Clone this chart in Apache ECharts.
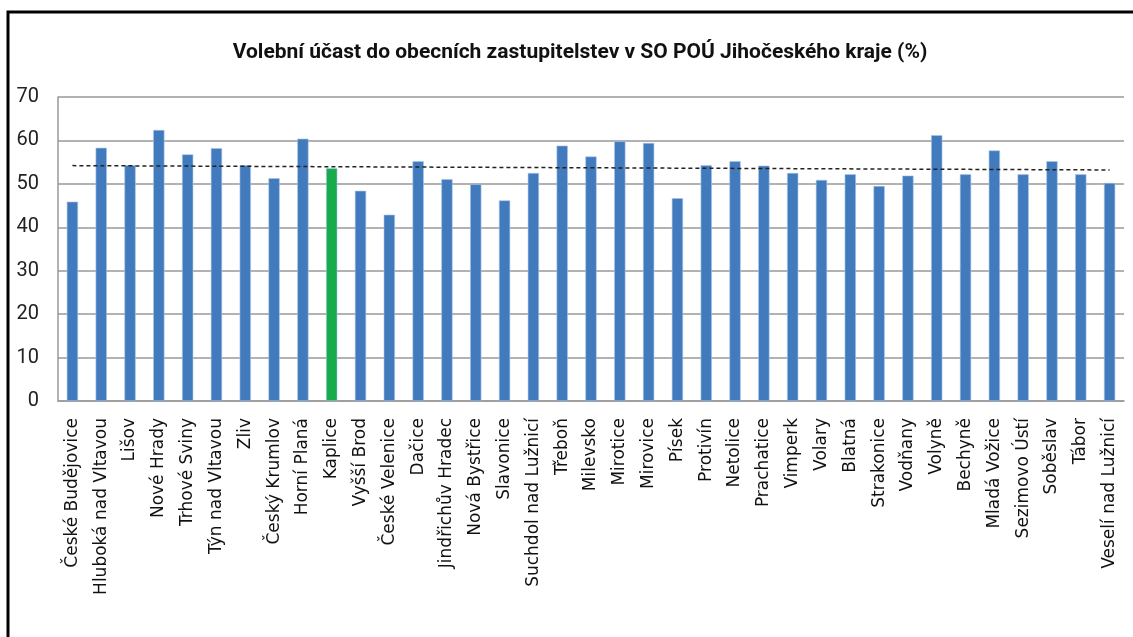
<!DOCTYPE html>
<html>
<head>
<meta charset="utf-8">
<style>
html,body{margin:0;padding:0;background:#fff;}
#chart{width:1133px;height:637px;}
</style>
<script src="https://cdn.jsdelivr.net/npm/echarts@6/dist/echarts.min.js"></script>
</head>
<body>
<div id="chart"></div>
<script>
var titleText = 'Volební účast do obecních zastupitelstev v SO POÚ Jihočeského kraje (%)';
var categories = ['České Budějovice','Hluboká nad Vltavou','Lišov','Nové Hrady','Trhové Sviny','Týn nad Vltavou','Zliv','Český Krumlov','Horní Planá','Kaplice','Vyšší Brod','České Velenice','Dačice','Jindřichův Hradec','Nová Bystřice','Slavonice','Suchdol nad Lužnicí','Třeboň','Milevsko','Mirotice','Mirovice','Písek','Protivín','Netolice','Prachatice','Vimperk','Volary','Blatná','Strakonice','Vodňany','Volyně','Bechyně','Mladá Vožice','Sezimovo Ústí','Soběslav','Tábor','Veselí nad Lužnicí'];
var turnout = [45.9,58.3,54.3,62.4,56.8,58.2,54.3,51.3,60.4,53.6,48.4,42.9,55.2,51.1,49.9,46.2,52.5,58.8,56.3,59.8,59.4,46.7,54.3,55.2,54.2,52.5,50.9,52.2,49.5,51.9,61.2,52.2,57.7,52.2,55.2,52.2,50.2];
var highlighted = 'Kaplice';
var trendEnds = [54.2, 53.2];
var yTicks = {min:0, max:70, interval:10};

var barData = turnout.map(function(v, i){
  return categories[i] === highlighted ? {value: v, itemStyle:{color:'#18AB4B'}} : v;
});

var chart = echarts.init(document.getElementById('chart'));
chart.setOption({
  animation:false,
  title:{
    text:titleText, left:575, textAlign:'center', top:37,
    textStyle:{fontFamily:'Roboto, sans-serif', fontSize:21, fontWeight:'bold', color:'#111'}
  },
  graphic:[{
    type:'rect', shape:{x:8, y:12, width:1140, height:700},
    style:{fill:'none', stroke:'#000', lineWidth:3}, silent:true, z:100
  }],
  grid:{left:58, right:9, top:97, bottom:236, containLabel:false},
  xAxis:{
    type:'category', data:categories,
    axisLine:{lineStyle:{color:'#999', width:1.5}},
    axisTick:{show:false},
    axisLabel:{rotate:90, interval:0, margin:17, color:'#111', fontFamily:'DejaVu Sans, sans-serif', fontSize:17}
  },
  yAxis:{
    type:'value', min:yTicks.min, max:yTicks.max, interval:yTicks.interval,
    axisLine:{show:true, lineStyle:{color:'#999', width:1.5}},
    axisTick:{show:false},
    splitLine:{lineStyle:{color:'#999', width:1.5}},
    axisLabel:{margin:19, color:'#222', fontFamily:'Roboto, sans-serif', fontSize:20}
  },
  series:[{
    type:'bar', data:barData, barWidth:'39%',
    itemStyle:{color:'#417BBE', borderColor:'#A9C4E6', borderWidth:0.6},
    markLine:{
      silent:true, symbol:'none', label:{show:false},
      lineStyle:{type:[4,3], color:'#222', width:1.5},
      data:[[{coord:[0, trendEnds[0]]},{coord:[categories.length-1, trendEnds[1]]}]]
    }
  }]
});
</script>
</body>
</html>
